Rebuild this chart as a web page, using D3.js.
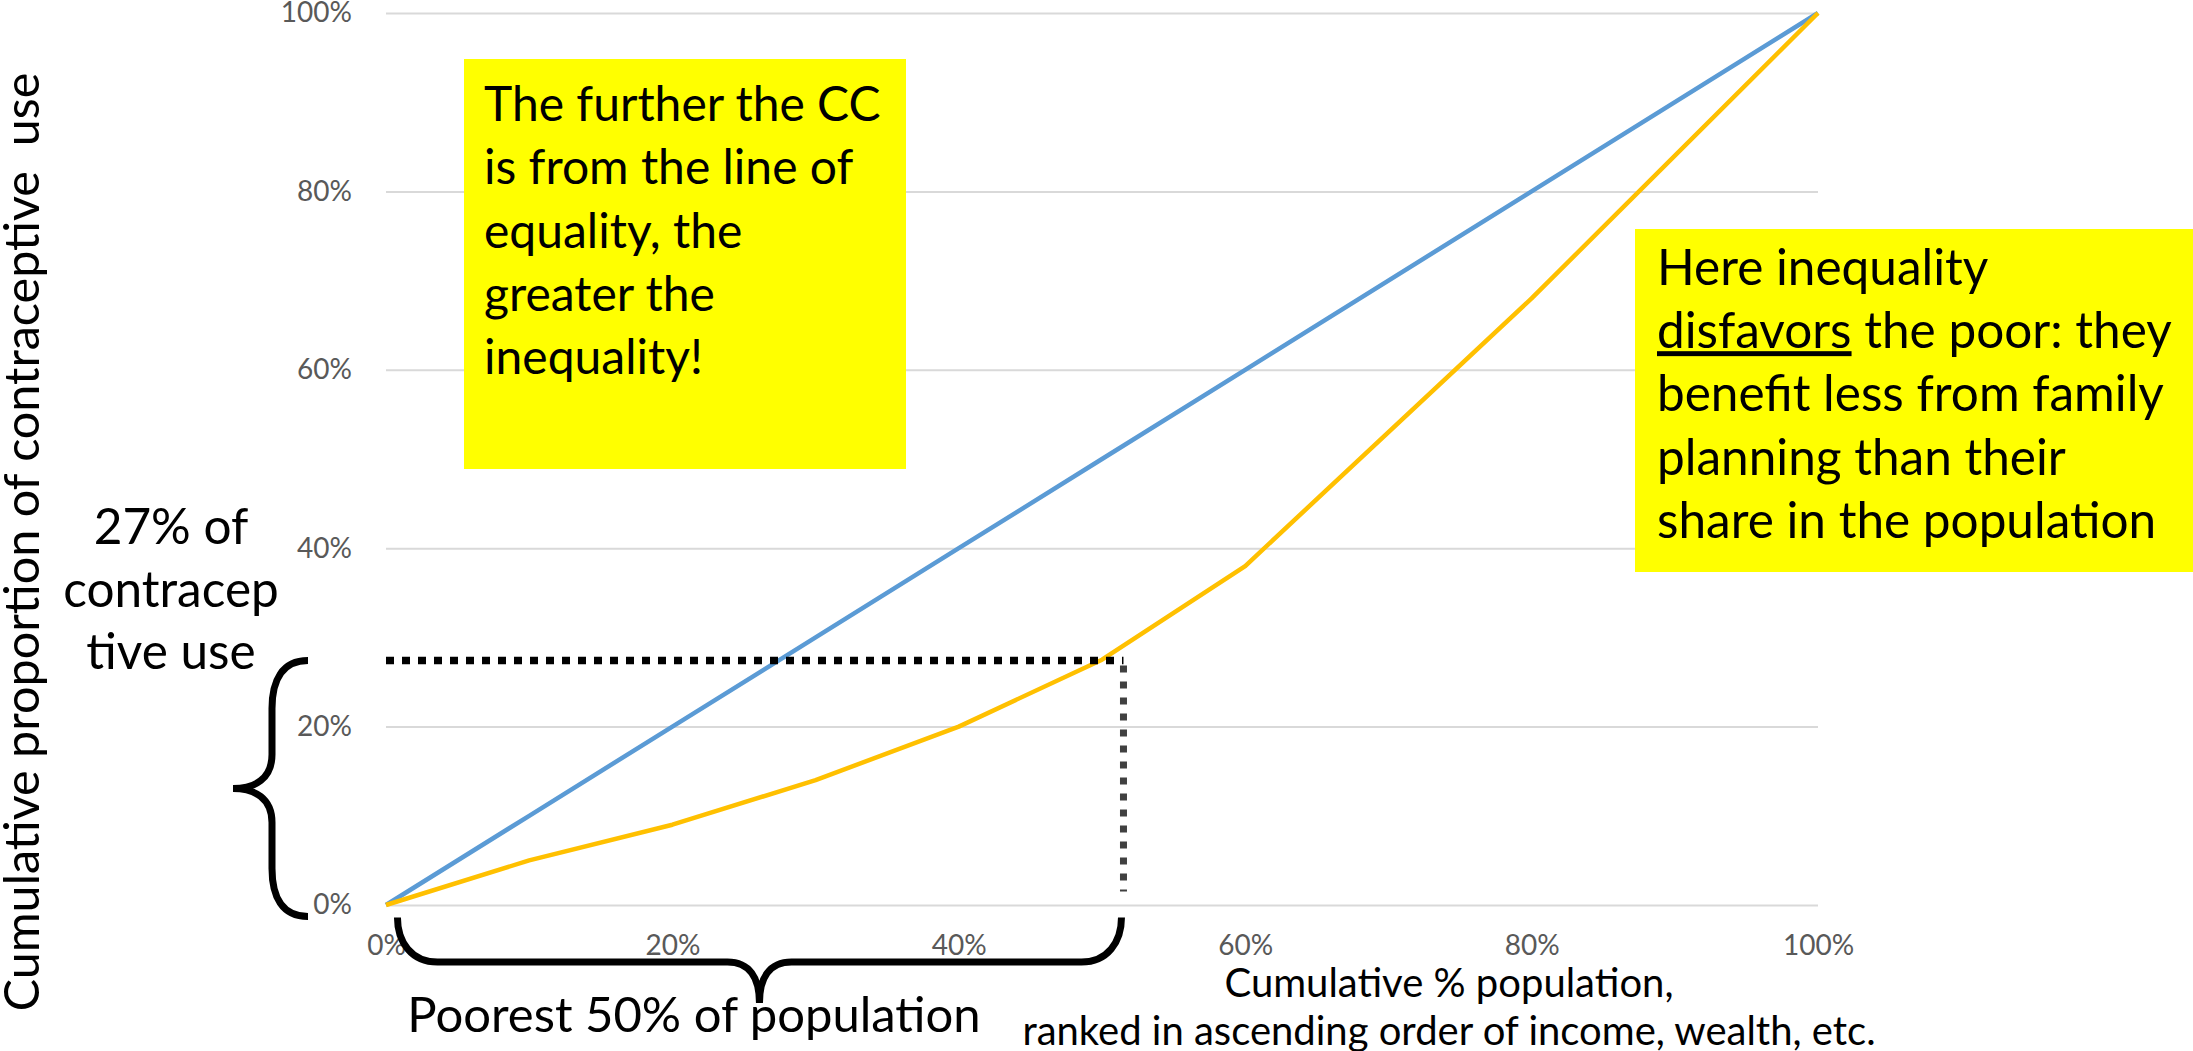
<!DOCTYPE html>
<html lang="en">
<head>
    <meta charset="UTF-8">
    <title>Concentration curve</title>
    <script src="https://cdn.jsdelivr.net/npm/d3@7"></script>
    <style>
        body { margin: 0; background: #fff; }
        text { font-family: Lato, "Noto Sans", sans-serif; }
    </style>
</head>
<body>
    <div id="chart"></div>

    <script>
        // cumulative % population (x) and cumulative share of contraceptive use (y)
        const popShare = [0, 0.1, 0.2, 0.3, 0.4, 0.5, 0.6, 0.8, 1.0];
        const equalityLine = [0, 0.1, 0.2, 0.3, 0.4, 0.5, 0.6, 0.8, 1.0];
        const contraceptiveUse = [0, 0.05, 0.09, 0.14, 0.20, 0.275, 0.38, 0.68, 1.0];
        const tickValues = [0, 0.2, 0.4, 0.6, 0.8, 1.0];

        // the "poorest 50%" marker
        const markerX = 0.515;
        const markerY = 0.274;

        const yTitle = "Cumulative proportion of contraceptive  use";
        const xTitle = ["Cumulative % population,", "ranked in ascending order of income, wealth, etc."];
        const noteLeft = ["The further the CC", "is from the line of", "equality, the", "greater the", "inequality!"];
        const sideLabel = ["27% of", "contracep", "tive use"];
        const bottomLabel = "Poorest 50% of population";

        const width = 2193;
        const height = 1051;
        const marginTop = 13;
        const marginBottom = 146;
        const marginLeft = 386;
        const marginRight = 375;

        const x = d3.scaleLinear()
            .domain([0, 1])
            .range([marginLeft, width - marginRight]);

        const y = d3.scaleLinear()
            .domain([0, 1])
            .range([height - marginBottom, marginTop]);

        const svg = d3.select("#chart").append("svg")
            .attr("width", width)
            .attr("height", height);

        // grid + y labels
        svg.append("g")
            .attr("transform", `translate(${marginLeft},0)`)
            .call(d3.axisLeft(y).tickValues(tickValues).tickFormat(d3.format(".0%"))
                .tickSize(-(width - marginLeft - marginRight)).tickPadding(34))
            .call(g => g.select(".domain").remove())
            .call(g => g.selectAll(".tick line").attr("stroke", "#d9d9d9").attr("stroke-width", 2))
            .call(g => g.selectAll(".tick text").attr("fill", "#595959")
                .attr("font-size", 28).attr("font-family", "Lato"));

        // x labels
        svg.append("g")
            .attr("transform", `translate(0,${height - marginBottom})`)
            .call(d3.axisBottom(x).tickValues(tickValues).tickFormat(d3.format(".0%"))
                .tickSize(0).tickPadding(30))
            .call(g => g.select(".domain").remove())
            .call(g => g.selectAll(".tick text").attr("fill", "#595959")
                .attr("font-size", 28).attr("font-family", "Lato"));

        const line = d3.line()
            .x((d, i) => x(popShare[i]))
            .y(d => y(d));

        svg.append("path")
            .datum(equalityLine)
            .attr("fill", "none")
            .attr("stroke", "#5b9bd5")
            .attr("stroke-width", 4.5)
            .attr("stroke-linejoin", "round")
            .attr("d", line);

        svg.append("path")
            .datum(contraceptiveUse)
            .attr("fill", "none")
            .attr("stroke", "#ffc000")
            .attr("stroke-width", 4.5)
            .attr("stroke-linejoin", "round")
            .attr("d", line);

        // dotted guides
        svg.append("line")
            .attr("x1", x(0)).attr("x2", x(markerX))
            .attr("y1", y(markerY)).attr("y2", y(markerY))
            .attr("stroke", "#000")
            .attr("stroke-width", 7.5)
            .attr("stroke-dasharray", "8 8");

        svg.append("line")
            .attr("x1", x(markerX)).attr("x2", x(markerX))
            .attr("y1", y(markerY) + 5).attr("y2", y(0.015))
            .attr("stroke", "#404040")
            .attr("stroke-width", 7)
            .attr("stroke-dasharray", "7 9");

        // braces
        const bx = 308, bShaft = 272, bTip = 233;
        const bTop = y(markerY), bBot = y(-0.013), bMid = (bTop + bBot) / 2;
        svg.append("path")
            .attr("fill", "none")
            .attr("stroke", "#000")
            .attr("stroke-width", 7)
            .attr("d", `M${bx},${bTop} C${bShaft + 10},${bTop} ${bShaft},${bTop + 20} ${bShaft},${bTop + 48}
                L${bShaft},${bMid - 34} C${bShaft},${bMid - 10} ${bTip + 22},${bMid} ${bTip},${bMid}
                C${bTip + 22},${bMid} ${bShaft},${bMid + 10} ${bShaft},${bMid + 34}
                L${bShaft},${bBot - 48} C${bShaft},${bBot - 20} ${bShaft + 10},${bBot} ${bx},${bBot}`);

        const hx0 = x(0.008), hx1 = x(markerX) - 2, hTop = y(-0.014), hFlat = 962, hTip = 1003;
        const hMid = (hx0 + hx1) / 2;
        svg.append("path")
            .attr("fill", "none")
            .attr("stroke", "#000")
            .attr("stroke-width", 7)
            .attr("d", `M${hx0},${hTop} C${hx0},${hFlat - 20} ${hx0 + 14},${hFlat} ${hx0 + 40},${hFlat}
                L${hMid - 32},${hFlat} C${hMid - 10},${hFlat} ${hMid},${hFlat + 16} ${hMid},${hTip}
                C${hMid},${hFlat + 16} ${hMid + 10},${hFlat} ${hMid + 32},${hFlat}
                L${hx1 - 40},${hFlat} C${hx1 - 14},${hFlat} ${hx1},${hFlat - 20} ${hx1},${hTop}`);

        // yellow notes
        svg.append("rect")
            .attr("x", 464).attr("y", 59)
            .attr("width", 442).attr("height", 410)
            .attr("fill", "#ffff00");

        svg.append("text")
            .attr("font-size", 48)
            .selectAll("tspan")
            .data(noteLeft)
            .join("tspan")
            .attr("x", 484)
            .attr("y", (d, i) => 121 + i * 63.3)
            .text(d => d);

        svg.append("rect")
            .attr("x", 1635).attr("y", 229)
            .attr("width", width - 1635).attr("height", 343)
            .attr("fill", "#ffff00");

        const noteRight = svg.append("text").attr("font-size", 49.5);
        const nr = (i) => noteRight.append("tspan").attr("x", 1657).attr("y", 285 + i * 63.2);
        nr(0).text("Here inequality");
        const l2 = nr(1);
        l2.append("tspan").style("text-decoration", "underline").text("disfavors");
        l2.append("tspan").text(" the poor: they");
        nr(2).text("benefit less from family");
        nr(3).text("planning than their");
        nr(4).text("share in the population");

        // axis titles
        svg.append("text")
            .attr("transform", "translate(39,542) rotate(-90)")
            .attr("text-anchor", "middle")
            .attr("font-size", 48.5)
            .style("white-space", "pre")
            .text(yTitle);

        svg.append("text")
            .attr("text-anchor", "middle")
            .attr("font-size", 40)
            .selectAll("tspan")
            .data(xTitle)
            .join("tspan")
            .attr("x", 1449)
            .attr("y", (d, i) => 997 + i * 48)
            .text(d => d);

        // brace labels
        svg.append("text")
            .attr("text-anchor", "middle")
            .attr("font-size", 49.5)
            .selectAll("tspan")
            .data(sideLabel)
            .join("tspan")
            .attr("x", 171)
            .attr("y", (d, i) => 544 + i * 62.5)
            .text(d => d);

        svg.append("text")
            .attr("x", 694).attr("y", 1032)
            .attr("text-anchor", "middle")
            .attr("font-size", 49)
            .text(bottomLabel);
    </script>
</body>
</html>
